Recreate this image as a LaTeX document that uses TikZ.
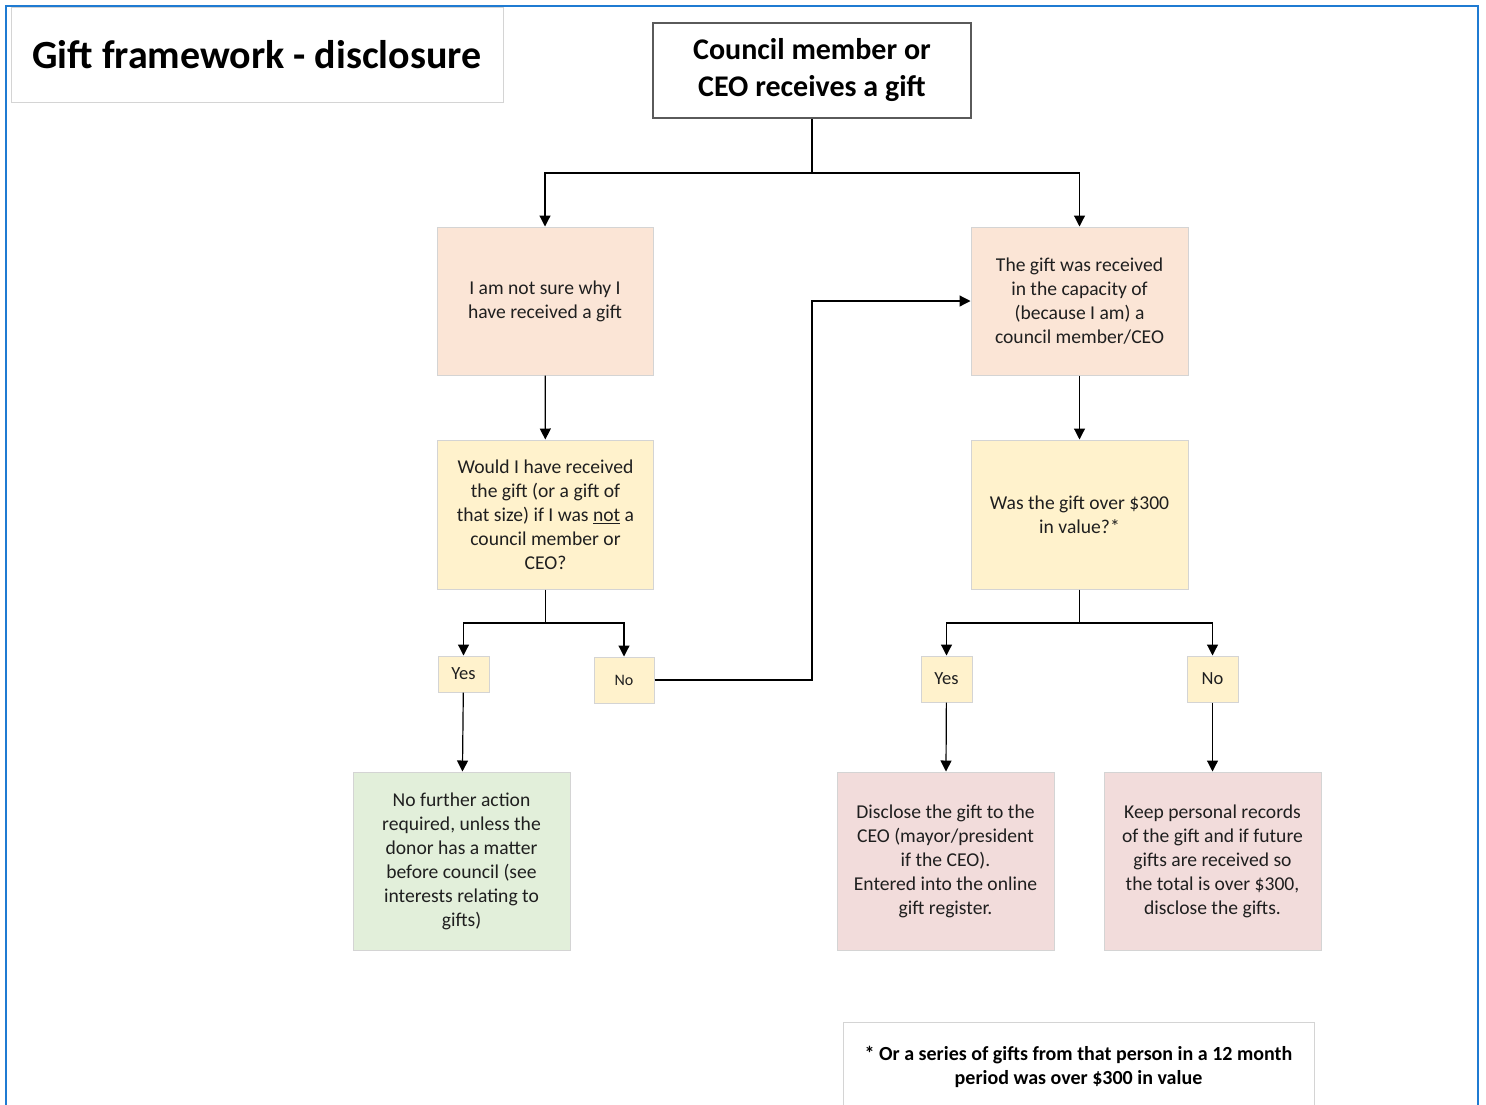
\documentclass[tikz,border=0pt]{standalone}
\usepackage{fontspec}
\setmainfont{Carlito}
\usetikzlibrary{arrows.meta}

\definecolor{frameblue}{HTML}{1F7BD2}
\definecolor{peach}{HTML}{FBE5D6}
\definecolor{cream}{HTML}{FFF2CC}
\definecolor{sage}{HTML}{E2EFDA}
\definecolor{rose}{HTML}{F2DCDB}
\definecolor{softgray}{HTML}{D4D4D4}
\definecolor{darkline}{HTML}{5A5A5A}

\begin{document}
\begin{tikzpicture}[x=1pt, y=-1pt,
    box/.style={draw=softgray, line width=1pt, align=center, inner sep=0pt,
        text=black!88, font=\fontsize{19.6}{24}\selectfont},
    answer/.style={box, fill=cream, font=\fontsize{18.5}{20}\selectfont},
    arr/.style={-{Triangle[width=11pt,length=11pt]}, line width=1.2pt},
    link/.style={line width=1.2pt}]
    \useasboundingbox (0,0) rectangle (1486,1104);

    % Outer frame
    \draw[frameblue, line width=2pt] (6,1120) -- (6,6) -- (1478,6) -- (1478,1120);

    % Title and start
    \node[box, fill=white, minimum width=492, minimum height=95, text=black,
        font=\fontsize{40}{44}\selectfont\bfseries] (title) at (257,54.5) {Gift framework - disclosure};
    \node[box, draw=darkline, line width=1.8pt, fill=white, minimum width=318, minimum height=95, text=black,
        font=\fontsize{30}{37}\selectfont\bfseries] (start) at (812,70.5) {Council member or\\CEO receives a gift};

    % First level
    \node[box, fill=peach, minimum width=216, minimum height=148] (notsure) at (545,301)
        {I am not sure why I\\have received a gift};
    \node[box, fill=peach, minimum width=217, minimum height=148] (capacity) at (1079.5,301)
        {The gift was received\\in the capacity of\\(because I am) a\\council member/CEO};

    % Questions
    \node[box, fill=cream, minimum width=216, minimum height=149] (would) at (545.5,514.5)
        {Would I have received\\the gift (or a gift of\\that size) if I was \underline{not} a\\council member or\\CEO?};
    \node[box, fill=cream, minimum width=217, minimum height=149] (value) at (1079.5,514.5)
        {Was the gift over \$300\\in value?*};

    % Answers
    \node[answer, minimum width=51, minimum height=36] (yesL) at (463.5,674) {Yes};
    \node[answer, minimum width=60, minimum height=46, font=\fontsize{16}{18}\selectfont] (noL) at (624,680) {No};
    \node[answer, minimum width=51, minimum height=46] (yesR) at (946.5,679) {Yes};
    \node[answer, minimum width=51, minimum height=46] (noR) at (1212.5,679) {No};

    % Outcomes
    \node[box, fill=sage, minimum width=217, minimum height=178] (noaction) at (461.5,861)
        {No further action\\required, unless the\\donor has a matter\\before council (see\\interests relating to\\gifts)};
    \node[box, fill=rose, minimum width=217, minimum height=178] (disclose) at (945.5,861)
        {Disclose the gift to the\\CEO (mayor/president\\if the CEO).\\Entered into the online\\gift register.};
    \node[box, fill=rose, minimum width=217, minimum height=178] (records) at (1212.5,861)
        {Keep personal records\\of the gift and if future\\gifts are received so\\the total is over \$300,\\disclose the gifts.};

    % Footnote
    \node[box, fill=white, minimum width=471, minimum height=90, text=black,
        font=\fontsize{20}{24}\selectfont\bfseries] (note) at (1078.5,1067)
        {* Or a series of gifts from that person in a 12 month\\period was over \$300 in value};

    % Split points
    \coordinate (splitA) at (812,173);
    \coordinate (splitB) at (545.5,623);
    \coordinate (splitC) at (1079.5,623);
    \coordinate (detour) at (812,680);

    % Connectors
    \draw[link] (start) -- (splitA);
    \draw[arr] (splitA) -| (notsure);
    \draw[arr] (splitA) -| (capacity);
    \draw[arr] (notsure) -- (would);
    \draw[arr] (capacity) -- (value);
    \draw[link] (would) -- (splitB);
    \draw[arr] (splitB) -| (yesL);
    \draw[arr] (splitB) -| (noL);
    \draw[link] (value) -- (splitC);
    \draw[arr] (splitC) -| (yesR);
    \draw[arr] (splitC) -| (noR);
    \draw[arr] (noL) -- (detour) |- (capacity);
    \draw[arr] (yesL) -- (noaction);
    \draw[arr] (yesR) -- (disclose);
    \draw[arr] (noR) -- (records);

\end{tikzpicture}
\end{document}
